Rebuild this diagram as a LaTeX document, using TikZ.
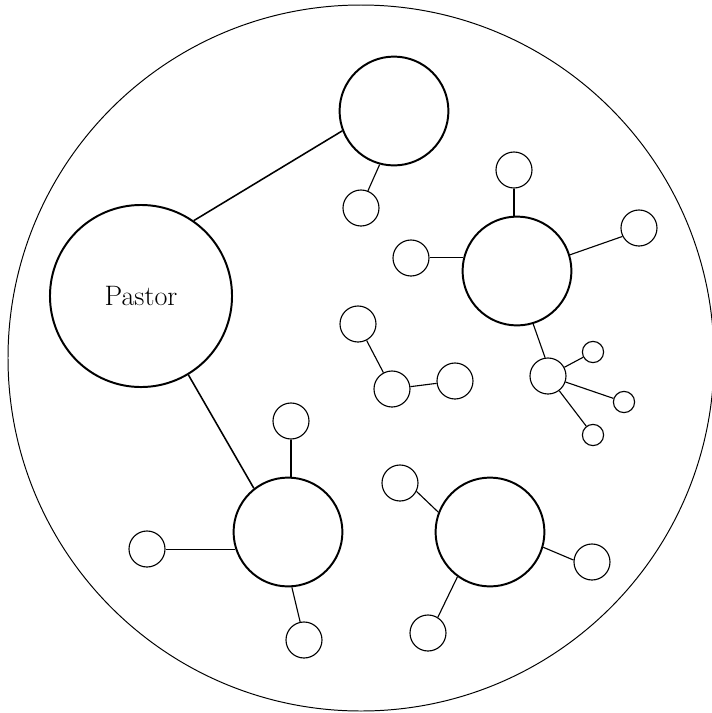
\documentclass[tikz,border=0pt]{standalone}
\usepackage{tikz}
\begin{document}
\begin{tikzpicture}[
  x=0.025cm, y=-0.025cm,
  pastor/.style={circle, draw, line width=1.4pt, minimum size=4.55cm, inner sep=0pt, font=\fontsize{20}{24}\selectfont},
  leader/.style={circle, draw, line width=1.4pt, minimum size=2.72cm, inner sep=0pt},
  member/.style={circle, draw, line width=0.8pt, minimum size=0.9cm, inner sep=0pt},
  guest/.style={circle, draw, line width=0.8pt, minimum size=0.53cm, inner sep=0pt},
  mainlink/.style={line width=1.1pt},
  link/.style={line width=0.8pt}
]
  \useasboundingbox (0,0) rectangle (712,713);
  \draw[line width=0.7pt] (361,358) circle [radius=353];

  \node[pastor] (pastor) at (141,296) {Pastor};

  \node[leader] (top) at (394,111) {};
  \node[member] (topa) at (361,208) {};

  \node[leader] (east) at (517,271) {};
  \node[member] (easta) at (514,170) {};
  \node[member] (eastb) at (411,258) {};
  \node[member] (eastc) at (639,228) {};
  \node[member] (hub) at (548,376) {};
  \node[guest] (huba) at (593,352) {};
  \node[guest] (hubb) at (624,402) {};
  \node[guest] (hubc) at (593,435) {};

  \node[member] (mida) at (358,324) {};
  \node[member] (midb) at (392,389) {};
  \node[member] (midc) at (455,381) {};

  \node[leader] (west) at (288,532) {};
  \node[member] (westa) at (291,421) {};
  \node[member] (westb) at (147,549) {};
  \node[member] (westc) at (304,640) {};

  \node[leader] (south) at (490,532) {};
  \node[member] (southa) at (400,483) {};
  \node[member] (southb) at (592,562) {};
  \node[member] (southc) at (428,633) {};

  \draw[mainlink] (pastor.55) -- (top.201);
  \draw[mainlink] (pastor.301) -- (west.128);
  \draw[link] (top.255) -- (topa.68);
  \draw[link] (easta.south) -- (easta.south |- east.north);
  \draw[link] (east.166) -- (east.166 -| eastb.east);
  \draw[link] (east.17) -- (eastc.207);
  \draw[link] (east.287) -- (hub.99);
  \foreach \m in {huba, hubb, hubc}
    \draw[link] (hub) -- (\m);
  \draw[link] (mida) -- (midb) -- (midc);
  \draw[link] (westa.south) -- (westa.south |- west.north);
  \draw[link] (west.198) -- (west.198 -| westb.east);
  \draw[link] (west.274) -- (westc.102);
  \draw[link] (south.159) -- (southa.333);
  \draw[link] (south.344) -- (southb.174);
  \draw[link] (south.234) -- (southc.58);
\end{tikzpicture}
\end{document}
